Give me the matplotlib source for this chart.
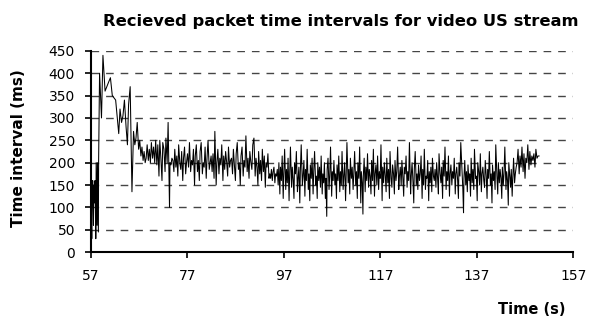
import numpy as np
import matplotlib
matplotlib.use("Agg")
import matplotlib.pyplot as plt

plt.rcParams['font.family'] = ['DejaVu Sans']

# Time of the first received packet (s)
start_time = 57.0

# Received packet time intervals (ms), in arrival order
intervals_startup = [10, 60, 15, 70, 30, 45, 120, 160, 60, 150, 110, 160, 30, 50, 200, 60, 200, 45, 200,
                     400, 300, 440, 360, 370, 380, 390, 350, 345, 340, 300, 265, 320, 290, 305, 340, 280, 240, 330, 370]
intervals_settle = [135, 190, 270, 240, 255, 290, 230, 250, 215, 235, 205, 225, 200, 210, 240, 205, 230, 200, 245, 210,
                    235, 200, 250, 195, 240, 170, 250, 205, 160, 245, 230, 180, 255, 200, 290, 100, 200, 195, 210]
intervals_steady1 = [205, 180, 230, 190, 215, 170, 240, 200, 185, 225, 160, 210, 235, 175, 200, 220, 190, 245, 180, 205,
                     195, 230, 150, 215, 240, 180, 205, 160, 225, 245, 175, 200, 190, 235, 165, 210, 250, 185, 200, 215,
                     180, 220, 165, 270, 150, 200, 230, 175, 210, 195, 240, 160, 215, 185, 225, 200, 170, 235, 190, 205,
                     210, 175, 230, 190, 160, 220, 245, 185, 200, 150, 215, 235, 170, 205, 190, 260, 180, 210, 165, 225,
                     200, 185, 240, 255, 170, 210, 190, 150, 225, 175, 205, 160, 230, 180, 215, 145, 200, 190, 220, 165]
intervals_steady2 = [175, 165, 185, 160, 180, 190, 155, 175, 170, 185, 150, 200, 130, 190, 160, 215, 120, 175, 230, 140,
                     185, 155, 210, 115, 170, 235, 145, 190, 160, 120, 200, 175, 225, 135, 165, 190, 110, 180, 240, 150,
                     170, 205, 125, 185, 160, 230, 140, 175, 115, 195, 165, 210, 130, 180, 225, 150, 170, 120, 200, 160,
                     190, 145, 215, 130, 175, 155, 200, 120, 165, 80, 185, 210, 140, 170, 235, 125, 180, 160, 205, 150,
                     175, 120, 195, 160, 215, 135, 180, 150, 225, 140, 170, 200, 115, 165, 245, 155, 185, 130, 210, 165,
                     190, 140, 175, 225, 150, 180, 120, 200, 165, 235, 110, 180, 155, 85, 170, 210, 135, 190, 160, 220,
                     145, 185, 170, 130, 205, 160, 230, 125, 175, 195, 150, 215, 140, 180, 165, 240, 115, 190, 155, 200,
                     170, 135, 210, 155, 185, 120, 225, 165, 145, 195, 175, 130, 205, 160, 180, 235, 140, 170, 190, 150,
                     205, 165, 125, 190, 175, 215, 145, 180, 160, 245, 130, 170, 200, 155, 110, 185, 225, 150, 175, 140,
                     195, 160, 175, 215, 120, 185, 150, 230, 140, 170, 165, 205, 115, 180, 155, 190, 135, 210, 170, 160,
                     185, 145, 200, 165, 130, 220, 175, 155, 190, 120, 205, 170, 235, 140, 180, 160, 215, 125, 175, 195,
                     150, 180, 165, 210, 130, 175, 190, 160, 120, 200, 170, 245, 185, 140, 88, 165, 205, 150, 180, 135,
                     195, 160, 175, 125, 210, 155, 185, 140, 230, 165, 170, 115, 200, 180, 150, 220, 135, 175, 190, 160,
                     145, 205, 170, 120, 185, 165, 225, 150, 175, 110, 195, 160, 180, 140, 240, 170, 130, 200, 155, 185,
                     165, 120, 190, 150, 175, 235, 140, 180, 160, 105, 200, 170, 145, 185, 125, 165, 210, 155, 175, 190]
intervals_end = [200, 230, 175, 215, 190, 235, 180, 220, 165, 210, 200, 240, 185, 225, 195, 215, 205, 220,
                 190, 230, 210, 215, 215]

intervals = np.array(intervals_startup + intervals_settle + intervals_steady1 + intervals_steady2 + intervals_end)
# arrival time of each packet = start + sum of the previous intervals
times = start_time + np.concatenate([[0], np.cumsum(intervals[:-1])]) / 1000.0

fig = plt.figure(figsize=(5.89, 3.22), dpi=100)
ax = fig.add_axes([0.1545, 0.217, 0.819, 0.625])

ax.plot(times, intervals, color='black', linewidth=0.75)

# Axes limits and ticks
ax.set_xlim(57, 157)
ax.set_ylim(0, 450)
ax.set_xticks(np.arange(57, 158, 20))
ax.set_yticks(np.arange(0, 451, 50))
ax.tick_params(axis='both', labelsize=10, length=4, width=1.2, colors='black')
ax.tick_params(axis='y', pad=7.5)
ax.tick_params(axis='x', pad=8)

# Dashed horizontal grid
ax.yaxis.grid(True, color='#454545', linewidth=1.0, linestyle=(0, (5.5, 5)))
ax.set_axisbelow(True)

for side in ['top', 'right']:
    ax.spines[side].set_visible(False)
for side in ['left', 'bottom']:
    ax.spines[side].set_linewidth(1.5)

# Titles and labels
fig.text(0.578, 0.933, "Recieved packet time intervals for video US stream",
         ha='center', va='center', fontsize=11.8, fontweight='bold')
fig.text(0.031, 0.54, "Time interval (ms)", ha='center', va='center',
         rotation=90, fontsize=11, fontweight='bold')
fig.text(0.903, 0.04, "Time (s)", ha='center', va='center',
         fontsize=10.5, fontweight='bold')

plt.savefig("out.png", dpi=100)
